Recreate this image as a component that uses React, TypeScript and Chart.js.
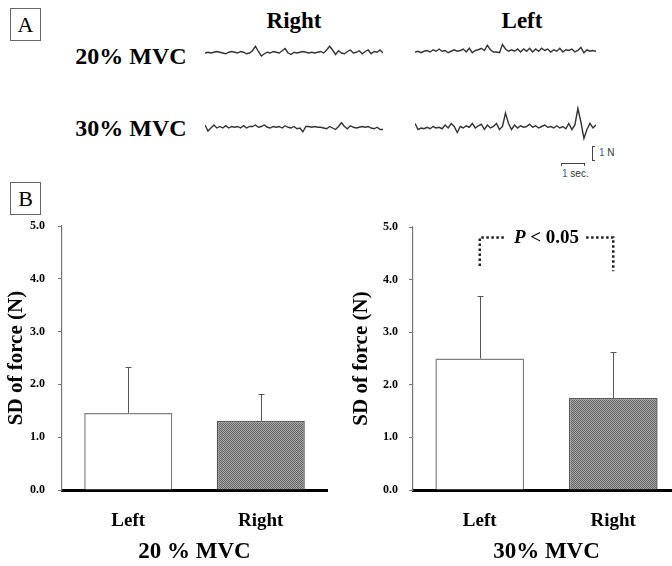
import React, { useEffect, useRef } from "react";
import { Chart, registerables } from "chart.js";
Chart.register(...registerables);

const SERIF = '"Liberation Serif", "Times New Roman", serif';
const SANS = '"Liberation Sans", Arial, sans-serif';

// ---- Panel A: force traces (units of 0.1 N) ----
const traceRight20 = [0, 0.5, 0, 0.5, 1, 0.5, 0, -0.5, 0.5, 1, 0.5, 0, 1, 0.5, -0.5, 0, 1.5, 4.5, 1, -2, -0.5, 0.5, 0, 1, 0.5, 0, 1.5, 3, 0, -1, 0.5, 0, 0.5, 1, 0.5, 0, 0.5, 0, 0.5, 1, 0, 2, 4.5, 2, -1, 1.5, 0, -0.5, 1, 2, 0, 0.5, 1.5, -0.5, 1, 2, -0.5, 1, 0.5, 2, 0];
const traceLeft20 = [0, 0.5, -0.5, 0.5, 1, 0, 1.5, 0.5, 2, 0.5, 1, -0.5, 0.5, 1.5, 0.5, 1, 2, 0, 2.5, -0.5, 1, 1.5, 2.5, 1, 4.5, 1.5, 0, 0, -0.5, 5, 2, 0.5, 1.5, 0.5, 2, 0, 2, 0.5, 2.5, 0, 2, 0.5, 2.5, 1, 2, 0, 1.5, 0.5, 2.5, 0, 1.5, 1, 2, 0, 1, 3, -0.5, 1.5, 0.5, 1, 0.5];
const traceRight30 = [2, -2, 0, 2, 0, 1, 0, 1.5, 0, 1, 0.5, 1, 0, 1.5, 0, 1, 1, 2, 0.5, 1, 2, 0.5, 0, 1, 0.5, 1, 0, 1.5, 0.5, 0, 1, -0.5, 0, -2.5, 1, 1, 0.5, 1, 0.5, 0.5, 0, -0.5, 1, 0, -1, 1, 3.5, 1, -0.5, 1.5, 0.5, 0, 0.5, 1, 0.5, 1, 0, -0.5, 0.5, -1, -1];
const traceLeft30 = [3, -1, 0, -0.5, 0.5, -0.5, 1, 0, 0.5, -0.5, 2, 0, 3, 1, -3, 1, 0, 1.5, 0.5, 3, 0, 1.5, 2.5, -1, 2, 0, 1, 3, -1, 1, 10, 3, -1, 2, 0, 1.5, 0.5, 1, 2.5, 0.5, 1.5, 0, 1, 2, 0.5, 1, 0, 1.5, 0, 1, -0.5, 3, -1, 2, 13, 4, -7, -1, 3, 0, 2];

// ---- Panel B: bar data ----
const categories = ["Left", "Right"];
const mvc20Mean = [1.46, 1.31];
const mvc20SD = [0.87, 0.5];
const mvc30Mean = [2.5, 1.75];
const mvc30SD = [1.18, 0.87];
const yTicks = [0, 1, 2, 3, 4, 5];
const sigTop = 4.8;
const sigEnds = [4.26, 4.16];
const sigLabel = ["P", " < 0.05"];

type TraceProps = { data: number[]; left: number; top: number; width: number; height: number; baseline: number };

function TraceChart({ data, left, top, width, height, baseline }: TraceProps) {
  const ref = useRef<HTMLCanvasElement>(null);
  useEffect(() => {
    const pxPerUnit = 1.5;
    const yMax = (baseline - top) / pxPerUnit;
    const yMin = -(top + height - baseline) / pxPerUnit;
    const chart = new Chart(ref.current!, {
      type: "line",
      data: {
        datasets: [
          {
            data: data.map((v, i) => ({ x: i, y: v })),
            borderColor: "#333",
            borderWidth: 1.4,
            pointRadius: 0,
            tension: 0,
            fill: false,
          },
        ],
      },
      options: {
        responsive: false,
        animation: false,
        events: [],
        layout: { padding: 0 },
        plugins: { legend: { display: false }, tooltip: { enabled: false } },
        scales: {
          x: { type: "linear", display: false, min: 0, max: data.length - 1 },
          y: { display: false, min: yMin, max: yMax },
        },
      },
    });
    return () => chart.destroy();
  }, []);
  return <canvas ref={ref} width={width} height={height} style={{ position: "absolute", left, top, width, height }} />;
}

type BarProps = {
  left: number; top: number; width: number; height: number;
  means: number[]; sds: number[]; xTitle: string;
  padTop: number; padRight: number; yAxisWidth: number; tickPad: number; titlePad: number;
  sig?: boolean;
};

function BarPanel(p: BarProps) {
  const ref = useRef<HTMLCanvasElement>(null);
  useEffect(() => {
    const canvas = ref.current!;
    const pc = document.createElement("canvas");
    pc.width = 2;
    pc.height = 2;
    const g = pc.getContext("2d")!;
    g.fillStyle = "#a6a6a6";
    g.fillRect(0, 0, 2, 2);
    g.fillStyle = "#666";
    g.fillRect(0, 0, 1, 1);
    g.fillRect(1, 1, 1, 1);
    const pattern = canvas.getContext("2d")!.createPattern(pc, "repeat")!;

    const errorBars = {
      id: "errorBars",
      afterDatasetsDraw(chart: any) {
        const { ctx } = chart;
        const y = chart.scales.y;
        const meta = chart.getDatasetMeta(0);
        ctx.save();
        ctx.strokeStyle = "#555";
        ctx.lineWidth = 1;
        p.means.forEach((m, i) => {
          const x = Math.round(meta.data[i].x) + 0.5;
          const y0 = y.getPixelForValue(m);
          const y1 = Math.round(y.getPixelForValue(m + p.sds[i])) + 0.5;
          ctx.beginPath();
          ctx.moveTo(x, y0);
          ctx.lineTo(x, y1);
          ctx.moveTo(x - 3, y1);
          ctx.lineTo(x + 3, y1);
          ctx.stroke();
        });
        ctx.restore();
      },
    };

    const sigPlugin = {
      id: "sig",
      afterDraw(chart: any) {
        if (!p.sig) return;
        const { ctx } = chart;
        const y = chart.scales.y;
        const meta = chart.getDatasetMeta(0);
        const xl = meta.data[0].x;
        const xr = meta.data[1].x;
        const yt = y.getPixelForValue(sigTop);
        const cx = (xl + xr) / 2;
        const fItalic = `italic bold 19px ${SERIF}`;
        const fBold = `bold 19px ${SERIF}`;
        ctx.save();
        ctx.font = fItalic;
        const w1 = ctx.measureText(sigLabel[0]).width;
        ctx.font = fBold;
        const w2 = ctx.measureText(sigLabel[1]).width;
        const tx = cx - (w1 + w2) / 2;
        ctx.fillStyle = "#000";
        ctx.textBaseline = "middle";
        ctx.font = fItalic;
        ctx.fillText(sigLabel[0], tx, yt + 1);
        ctx.font = fBold;
        ctx.fillText(sigLabel[1], tx + w1, yt + 1);
        ctx.strokeStyle = "#222";
        ctx.lineWidth = 2.5;
        ctx.setLineDash([2.5, 2.5]);
        ctx.beginPath();
        ctx.moveTo(xl, y.getPixelForValue(sigEnds[0]));
        ctx.lineTo(xl, yt);
        ctx.lineTo(tx - 9, yt);
        ctx.moveTo(tx + w1 + w2 + 7, yt);
        ctx.lineTo(xr, yt);
        ctx.lineTo(xr, y.getPixelForValue(sigEnds[1]));
        ctx.stroke();
        ctx.restore();
      },
    };

    const chart = new Chart(canvas, {
      type: "bar",
      data: {
        labels: categories,
        datasets: [
          {
            data: p.means,
            backgroundColor: ["#ffffff", pattern],
            borderColor: ["#808080", "#5a5a5a"],
            borderWidth: 1.5,
            barPercentage: 0.665,
            categoryPercentage: 1,
          },
        ],
      },
      options: {
        responsive: false,
        animation: false,
        events: [],
        layout: { padding: { top: p.padTop, right: p.padRight, left: 0, bottom: 0 } },
        plugins: { legend: { display: false }, tooltip: { enabled: false } },
        scales: {
          x: {
            grid: { display: false, drawTicks: false },
            border: { display: true, color: "#000", width: 3 },
            ticks: { font: { family: SERIF, weight: "bold", size: 19 }, color: "#000", padding: 20 },
            title: {
              display: true,
              text: p.xTitle,
              font: { family: SERIF, weight: "bold", size: 23 },
              color: "#000",
              padding: { top: 0, bottom: 0 },
            },
            afterFit: (s: any) => {
              s.height = 76;
            },
          },
          y: {
            min: 0,
            max: 5,
            afterBuildTicks: (s: any) => {
              s.ticks = yTicks.map((v) => ({ value: v }));
            },
            ticks: {
              callback: (v: any) => Number(v).toFixed(1),
              font: { family: SERIF, weight: "bold", size: 12 },
              color: "#000",
              padding: p.tickPad,
            },
            grid: { display: true, drawOnChartArea: false, drawTicks: true, tickLength: 4, color: "#777" },
            border: { display: true, color: "#777", width: 1.2 },
            title: {
              display: true,
              text: "SD of force (N)",
              font: { family: SERIF, weight: "bold", size: 21 },
              color: "#000",
              padding: { top: p.titlePad, bottom: 0 },
            },
            afterFit: (s: any) => {
              s.width = p.yAxisWidth;
            },
          },
        },
      },
      plugins: [errorBars, sigPlugin],
    });
    return () => chart.destroy();
  }, []);
  return (
    <canvas
      ref={ref}
      width={p.width}
      height={p.height}
      style={{ position: "absolute", left: p.left, top: p.top, width: p.width, height: p.height }}
    />
  );
}

const centerText = (text: string, cx: number, cy: number, size: number, extra: any = {}) => (
  <div
    style={{
      position: "absolute",
      left: cx,
      top: cy,
      transform: "translate(-50%, -50%)",
      whiteSpace: "nowrap",
      lineHeight: 1,
      fontFamily: SERIF,
      fontWeight: "bold",
      fontSize: size,
      color: "#000",
      ...extra,
    }}
  >
    {text}
  </div>
);

const boxLabel = (text: string, left: number, top: number, w: number, h: number) => (
  <div
    style={{
      position: "absolute",
      left,
      top,
      width: w,
      height: h,
      boxSizing: "border-box",
      border: "1px solid #666",
      display: "flex",
      alignItems: "center",
      justifyContent: "center",
      fontFamily: SERIF,
      fontSize: 22,
      lineHeight: 1,
      color: "#000",
    }}
  >
    {text}
  </div>
);

export default function App() {
  return (
    <div
      style={{
        position: "absolute",
        left: 0,
        top: 0,
        width: 672,
        height: 566,
        overflow: "hidden",
        background: "#fff",
      }}
    >
      {boxLabel("A", 10, 8, 31, 33)}
      {centerText("Right", 294, 20, 23)}
      {centerText("Left", 522, 20, 23)}
      {centerText("20% MVC", 131, 56, 24)}
      {centerText("30% MVC", 131, 128, 24)}

      <TraceChart data={traceRight20} left={205} top={30} width={178} height={40} baseline={53} />
      <TraceChart data={traceLeft20} left={415} top={30} width={181} height={40} baseline={52} />
      <TraceChart data={traceRight30} left={205} top={100} width={178} height={46} baseline={128} />
      <TraceChart data={traceLeft30} left={415} top={96} width={181} height={50} baseline={128} />

      {/* scale bars */}
      <div style={{ position: "absolute", left: 592, top: 146, width: 3, height: 15, borderLeft: "1px solid #444", borderTop: "1px solid #444", borderBottom: "1px solid #444", boxSizing: "border-box" }} />
      <div style={{ position: "absolute", left: 599, top: 147, fontFamily: SANS, fontSize: 10, lineHeight: "12px", color: "#333", whiteSpace: "nowrap" }}>
        <span style={{ color: "#3a5f9a" }}>1</span> N
      </div>
      <div style={{ position: "absolute", left: 561, top: 163, width: 24, height: 3, borderLeft: "1px solid #444", borderTop: "1px solid #444", borderRight: "1px solid #444", boxSizing: "border-box" }} />
      <div style={{ position: "absolute", left: 562, top: 168, fontFamily: SANS, fontSize: 10, lineHeight: "12px", color: "#333", whiteSpace: "nowrap" }}>
        <span style={{ color: "#3a5f9a" }}>1</span> sec.
      </div>

      {boxLabel("B", 10, 182, 31, 33)}

      <BarPanel left={0} top={200} width={336} height={366} means={mvc20Mean} sds={mvc20SD} xTitle="20 % MVC" padTop={26} padRight={9} yAxisWidth={62} tickPad={13} titlePad={4} />
      <BarPanel left={336} top={200} width={344} height={366} means={mvc30Mean} sds={mvc30SD} xTitle="30% MVC" padTop={27} padRight={0} yAxisWidth={77} tickPad={11} titlePad={13} sig />
    </div>
  );
}
